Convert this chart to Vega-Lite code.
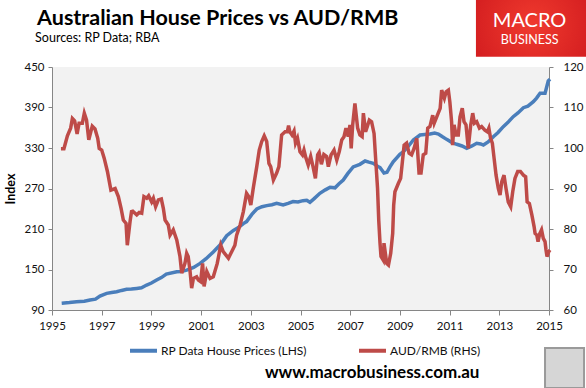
{
  "$schema": "https://vega.github.io/schema/vega-lite/v6.json",
  "width": 497,
  "height": 243,
  "autosize": {"type": "none"},
  "padding": {"left": 52, "top": 67, "right": 37, "bottom": 78},
  "background": "white",
  "config": {
    "font": "Lato",
    "view": {"fill": "#F2F2F2", "stroke": null},
    "axis": {"labelFont": "Lato", "labelFontSize": 11.5, "labelColor": "#111111", "domainColor": "#868686", "tickColor": "#868686", "grid": false, "tickSize": 4, "labelOverlap": false, "labelFlush": false}
  },
  "datasets": {
    "house": [
      {"t":1995.39,"v":100},{"t":1995.7,"v":101},{"t":1995.99,"v":102.3},{"t":1996.3,"v":103},{"t":1996.53,"v":104.8},{"t":1996.75,"v":106},{"t":1996.93,"v":110.7},{"t":1997.2,"v":114.6},{"t":1997.4,"v":116},{"t":1997.6,"v":117},{"t":1997.8,"v":119},{"t":1998.0,"v":120.6},{"t":1998.2,"v":121},{"t":1998.41,"v":122},{"t":1998.6,"v":123},{"t":1998.81,"v":127},{"t":1999.0,"v":130},{"t":1999.21,"v":134.4},{"t":1999.4,"v":138},{"t":1999.6,"v":143.3},{"t":2000.02,"v":146.7},{"t":2000.2,"v":147},{"t":2000.42,"v":149},{"t":2000.7,"v":153},{"t":2000.96,"v":159},{"t":2001.2,"v":166},{"t":2001.49,"v":176},{"t":2001.8,"v":188},{"t":2002.03,"v":200},{"t":2002.3,"v":208},{"t":2002.5,"v":212},{"t":2002.7,"v":218},{"t":2002.83,"v":221},{"t":2003.05,"v":232},{"t":2003.24,"v":239.6},{"t":2003.45,"v":243},{"t":2003.64,"v":244.6},{"t":2003.85,"v":246},{"t":2004.04,"v":248},{"t":2004.3,"v":245.6},{"t":2004.5,"v":248},{"t":2004.7,"v":250.6},{"t":2004.9,"v":250},{"t":2005.1,"v":252},{"t":2005.25,"v":252.5},{"t":2005.38,"v":249.5},{"t":2005.55,"v":255},{"t":2005.78,"v":262.9},{"t":2006.0,"v":268},{"t":2006.19,"v":271.8},{"t":2006.39,"v":271},{"t":2006.55,"v":277},{"t":2006.72,"v":282.6},{"t":2006.9,"v":292},{"t":2007.12,"v":302},{"t":2007.39,"v":305.8},{"t":2007.6,"v":310.7},{"t":2007.75,"v":309},{"t":2007.93,"v":307.3},{"t":2008.1,"v":303},{"t":2008.2,"v":301},{"t":2008.36,"v":293},{"t":2008.48,"v":294},{"t":2008.6,"v":302},{"t":2008.73,"v":309.7},{"t":2009.0,"v":320.7},{"t":2009.14,"v":324.6},{"t":2009.35,"v":333},{"t":2009.54,"v":341.9},{"t":2009.81,"v":349.3},{"t":2010.0,"v":350},{"t":2010.21,"v":350.7},{"t":2010.4,"v":352},{"t":2010.55,"v":350.7},{"t":2010.7,"v":347},{"t":2010.88,"v":342.8},{"t":2011.1,"v":338},{"t":2011.29,"v":335.5},{"t":2011.5,"v":333},{"t":2011.69,"v":329.6},{"t":2011.9,"v":333},{"t":2012.09,"v":337},{"t":2012.25,"v":336},{"t":2012.36,"v":334.4},{"t":2012.55,"v":339},{"t":2012.76,"v":346.8},{"t":2012.95,"v":353},{"t":2013.16,"v":361.6},{"t":2013.35,"v":368},{"t":2013.56,"v":376.4},{"t":2013.75,"v":382},{"t":2013.97,"v":389.7},{"t":2014.15,"v":392},{"t":2014.37,"v":398.6},{"t":2014.5,"v":404},{"t":2014.64,"v":411},{"t":2014.84,"v":411},{"t":2014.97,"v":429.3},{"t":2015.04,"v":432}
    ],
    "aud": [
      {"t":1995.36,"v":99.8},{"t":1995.48,"v":99.8},{"t":1995.62,"v":103.0},{"t":1995.75,"v":104.9},{"t":1995.82,"v":107.3},{"t":1995.91,"v":106.7},{"t":1996.01,"v":103.5},{"t":1996.09,"v":106.1},{"t":1996.22,"v":106.1},{"t":1996.30,"v":108.6},{"t":1996.39,"v":106.9},{"t":1996.48,"v":102.0},{"t":1996.62,"v":105.4},{"t":1996.73,"v":104.7},{"t":1996.84,"v":102.4},{"t":1996.90,"v":99.9},{"t":1997.0,"v":99.5},{"t":1997.10,"v":97.5},{"t":1997.23,"v":94.2},{"t":1997.37,"v":89.6},{"t":1997.54,"v":90.0},{"t":1997.67,"v":88.0},{"t":1997.78,"v":85.1},{"t":1997.87,"v":82.2},{"t":1997.98,"v":81.4},{"t":1998.03,"v":76.0},{"t":1998.14,"v":81.8},{"t":1998.2,"v":84.3},{"t":1998.25,"v":84.4},{"t":1998.41,"v":83.5},{"t":1998.51,"v":84.1},{"t":1998.61,"v":83.9},{"t":1998.70,"v":88.0},{"t":1998.81,"v":87.6},{"t":1998.89,"v":88.2},{"t":1999.01,"v":86.7},{"t":1999.08,"v":87.6},{"t":1999.17,"v":85.5},{"t":1999.28,"v":87.2},{"t":1999.40,"v":87.4},{"t":1999.48,"v":85.1},{"t":1999.55,"v":82.2},{"t":1999.68,"v":81.0},{"t":1999.75,"v":78.5},{"t":1999.88,"v":79.8},{"t":2000.02,"v":77.3},{"t":2000.15,"v":73.2},{"t":2000.22,"v":69.1},{"t":2000.35,"v":71.5},{"t":2000.42,"v":74.0},{"t":2000.48,"v":73.2},{"t":2000.55,"v":69.9},{"t":2000.62,"v":65.4},{"t":2000.69,"v":67.8},{"t":2000.82,"v":68.2},{"t":2000.89,"v":67.4},{"t":2000.98,"v":67.0},{"t":2001.06,"v":71.5},{"t":2001.12,"v":65.8},{"t":2001.23,"v":69.5},{"t":2001.36,"v":67.8},{"t":2001.49,"v":68.2},{"t":2001.65,"v":71.5},{"t":2001.79,"v":76.0},{"t":2001.89,"v":74.4},{"t":2002.1,"v":72.8},{"t":2002.23,"v":74.4},{"t":2002.36,"v":76.0},{"t":2002.43,"v":78.5},{"t":2002.57,"v":81.0},{"t":2002.7,"v":84.3},{"t":2002.83,"v":88.8},{"t":2002.92,"v":88.0},{"t":2003.0,"v":85.9},{"t":2003.1,"v":90.1},{"t":2003.24,"v":95.4},{"t":2003.34,"v":99.5},{"t":2003.44,"v":101.6},{"t":2003.54,"v":103.0},{"t":2003.64,"v":101.6},{"t":2003.73,"v":96.2},{"t":2003.8,"v":95.4},{"t":2003.91,"v":92.1},{"t":2004.04,"v":93.8},{"t":2004.13,"v":95.4},{"t":2004.24,"v":103.2},{"t":2004.38,"v":104.0},{"t":2004.47,"v":104.0},{"t":2004.52,"v":105.5},{"t":2004.57,"v":104.0},{"t":2004.66,"v":103.2},{"t":2004.74,"v":104.2},{"t":2004.80,"v":101.2},{"t":2004.88,"v":102.4},{"t":2004.98,"v":99.1},{"t":2005.08,"v":98.3},{"t":2005.14,"v":99.5},{"t":2005.22,"v":97.5},{"t":2005.31,"v":95.8},{"t":2005.41,"v":97.9},{"t":2005.49,"v":95.8},{"t":2005.6,"v":92.5},{"t":2005.69,"v":98.3},{"t":2005.75,"v":98.9},{"t":2005.84,"v":96.0},{"t":2005.94,"v":98.4},{"t":2006.05,"v":97.9},{"t":2006.12,"v":95.4},{"t":2006.23,"v":98.3},{"t":2006.35,"v":99.5},{"t":2006.46,"v":97.0},{"t":2006.56,"v":99.1},{"t":2006.66,"v":102.0},{"t":2006.75,"v":102.8},{"t":2006.83,"v":104.9},{"t":2006.92,"v":102.8},{"t":2006.99,"v":105.7},{"t":2007.04,"v":99.9},{"t":2007.1,"v":105.7},{"t":2007.19,"v":111.0},{"t":2007.30,"v":104.9},{"t":2007.39,"v":103.2},{"t":2007.48,"v":102.8},{"t":2007.53,"v":108.6},{"t":2007.62,"v":104.0},{"t":2007.69,"v":105.3},{"t":2007.77,"v":106.9},{"t":2007.86,"v":106.5},{"t":2007.96,"v":103.6},{"t":2008.04,"v":95.8},{"t":2008.1,"v":90.1},{"t":2008.15,"v":82.0},{"t":2008.2,"v":76.5},{"t":2008.24,"v":73.2},{"t":2008.33,"v":72.3},{"t":2008.36,"v":76.5},{"t":2008.47,"v":71.5},{"t":2008.54,"v":71.1},{"t":2008.63,"v":74.0},{"t":2008.71,"v":78.9},{"t":2008.75,"v":85.9},{"t":2008.8,"v":89.2},{"t":2008.94,"v":91.3},{"t":2009.03,"v":92.5},{"t":2009.1,"v":96.6},{"t":2009.17,"v":100.7},{"t":2009.27,"v":101.2},{"t":2009.37,"v":98.7},{"t":2009.47,"v":98.3},{"t":2009.57,"v":99.9},{"t":2009.68,"v":102.4},{"t":2009.77,"v":93.8},{"t":2009.85,"v":93.8},{"t":2009.94,"v":98.3},{"t":2010.04,"v":98.7},{"t":2010.12,"v":104.9},{"t":2010.21,"v":105.3},{"t":2010.32,"v":108.1},{"t":2010.38,"v":106.1},{"t":2010.51,"v":108.1},{"t":2010.62,"v":109.8},{"t":2010.68,"v":114.3},{"t":2010.79,"v":112.3},{"t":2010.86,"v":113.9},{"t":2010.95,"v":114.3},{"t":2011.01,"v":111.4},{"t":2011.08,"v":106.5},{"t":2011.12,"v":100.7},{"t":2011.18,"v":105.7},{"t":2011.26,"v":103.2},{"t":2011.35,"v":103.2},{"t":2011.42,"v":107.7},{"t":2011.51,"v":109.8},{"t":2011.58,"v":106.5},{"t":2011.66,"v":105.7},{"t":2011.75,"v":99.9},{"t":2011.85,"v":105.7},{"t":2011.93,"v":108.6},{"t":2012.0,"v":106.1},{"t":2012.09,"v":106.5},{"t":2012.2,"v":104.9},{"t":2012.29,"v":105.3},{"t":2012.42,"v":104.4},{"t":2012.52,"v":104.0},{"t":2012.58,"v":104.9},{"t":2012.65,"v":102.4},{"t":2012.72,"v":101.2},{"t":2012.79,"v":97.5},{"t":2012.87,"v":93.3},{"t":2012.96,"v":90.0},{"t":2013.03,"v":88.4},{"t":2013.1,"v":91.7},{"t":2013.19,"v":93.3},{"t":2013.27,"v":90.0},{"t":2013.36,"v":86.7},{"t":2013.46,"v":85.5},{"t":2013.54,"v":89.2},{"t":2013.63,"v":92.5},{"t":2013.74,"v":94.2},{"t":2013.85,"v":94.2},{"t":2013.97,"v":93.3},{"t":2014.06,"v":92.9},{"t":2014.12,"v":86.7},{"t":2014.21,"v":86.3},{"t":2014.31,"v":83.5},{"t":2014.4,"v":80.6},{"t":2014.44,"v":78.9},{"t":2014.51,"v":78.5},{"t":2014.56,"v":76.9},{"t":2014.63,"v":78.9},{"t":2014.7,"v":79.8},{"t":2014.77,"v":77.7},{"t":2014.84,"v":76.9},{"t":2014.88,"v":74.8},{"t":2014.92,"v":73.2},{"t":2014.99,"v":74.4},{"t":2015.04,"v":74.8}
    ]
  },
  "layer": [
    {
      "layer": [
        {
          "data": {"name": "house"},
          "mark": {"type": "line", "strokeWidth": 3.5, "clip": false},
          "encoding": {
            "x": {"field": "t", "type": "quantitative", "scale": {"domain": [1995, 2015], "nice": false, "zero": false},
                  "axis": {"values": [1995,1997,1999,2001,2003,2005,2007,2009,2011,2013,2015], "format": "d", "title": null, "tickSize": 5, "labelPadding": 5}},
            "y": {"field": "v", "type": "quantitative", "scale": {"domain": [90, 450], "nice": false, "zero": false},
                  "axis": {"values": [90,120,150,180,210,240,270,300,330,360,390,420,450], "title": "Index", "titleFont": "Lato", "titleFontSize": 12.5, "titleFontWeight": "bold", "titleColor": "#000000", "titlePadding": 6, "labelPadding": 4}},
            "color": {"datum": "RP Data House Prices (LHS)", "type": "nominal",
                      "scale": {"domain": ["RP Data House Prices (LHS)", "AUD/RMB (RHS)"], "range": ["#4A7EBB", "#BE4B48"]},
                      "legend": {"orient": "none", "legendX": 76, "legendY": 268, "direction": "horizontal", "title": null, "symbolType": "stroke", "symbolSize": 729, "symbolStrokeWidth": 4, "labelFont": "Lato", "labelFontSize": 12, "labelColor": "#111111", "columnPadding": 44, "labelOffset": 2, "padding": 0}}
          }
        },
        {
          "data": {"values": [{}]},
          "mark": {"type": "text", "clip": false, "text": "Australian House Prices vs AUD/RMB", "font": "Lato", "fontSize": 21.5, "fontWeight": "bold", "color": "#000000", "align": "left", "baseline": "alphabetic"},
          "encoding": {"x": {"datum": 1994.4}, "y": {"datum": 512.2}}
        },
        {
          "data": {"values": [{}]},
          "mark": {"type": "text", "clip": false, "text": "Sources: RP Data; RBA", "font": "Lato", "fontSize": 12.5, "color": "#000000", "align": "left", "baseline": "alphabetic"},
          "encoding": {"x": {"datum": 1994.32}, "y": {"datum": 487.5}}
        },
        {
          "data": {"values": [{}]},
          "mark": {"type": "rect", "clip": false, "color": {"gradient": "radial", "x1": 0.5, "y1": 0.5, "x2": 0.5, "y2": 0.5, "r1": 0, "r2": 0.8, "stops": [{"offset": 0, "color": "#F03A2E"}, {"offset": 1, "color": "#C8121A"}]}},
          "encoding": {"x": {"datum": 2012.06}, "x2": {"datum": 2016.6}, "y": {"datum": 560}, "y2": {"datum": 465.3}}
        },
        {
          "data": {"values": [{}]},
          "mark": {"type": "text", "clip": false, "text": "MACRO", "font": "Lato", "fontSize": 20, "color": "#FFFFFF", "align": "center", "baseline": "alphabetic"},
          "encoding": {"x": {"datum": 2014.22}, "y": {"datum": 509}}
        },
        {
          "data": {"values": [{}]},
          "mark": {"type": "text", "clip": false, "text": "BUSINESS", "font": "Lato", "fontSize": 12.5, "color": "#FFFFFF", "align": "center", "baseline": "alphabetic"},
          "encoding": {"x": {"datum": 2014.22}, "y": {"datum": 484.5}}
        },
        {
          "data": {"values": [{}]},
          "mark": {"type": "text", "clip": false, "text": "www.macrobusiness.com.au", "font": "Lato", "fontSize": 17, "fontWeight": "bold", "color": "#000000", "align": "right", "baseline": "alphabetic"},
          "encoding": {"x": {"datum": 2012.2}, "y": {"datum": -10.5}}
        },
        {
          "data": {"values": [{}]},
          "mark": {"type": "rect", "clip": false, "fill": "#D6D6D6", "stroke": "#9A9A9A", "strokeWidth": 2},
          "encoding": {"x": {"datum": 2014.84}, "x2": {"datum": 2016.41}, "y": {"datum": 33.7}, "y2": {"datum": -25.6}}
        }
      ]
    },
    {
      "data": {"name": "aud"},
      "mark": {"type": "line", "strokeWidth": 3.5, "clip": false},
      "encoding": {
        "x": {"field": "t", "type": "quantitative"},
        "y": {"field": "v", "type": "quantitative", "scale": {"domain": [60, 120], "nice": false, "zero": false},
              "axis": {"orient": "right", "values": [60,70,80,90,100,110,120], "title": null, "labelPadding": 10}},
        "color": {"datum": "AUD/RMB (RHS)", "type": "nominal"}
      }
    }
  ],
  "resolve": {"scale": {"y": "independent"}}
}
